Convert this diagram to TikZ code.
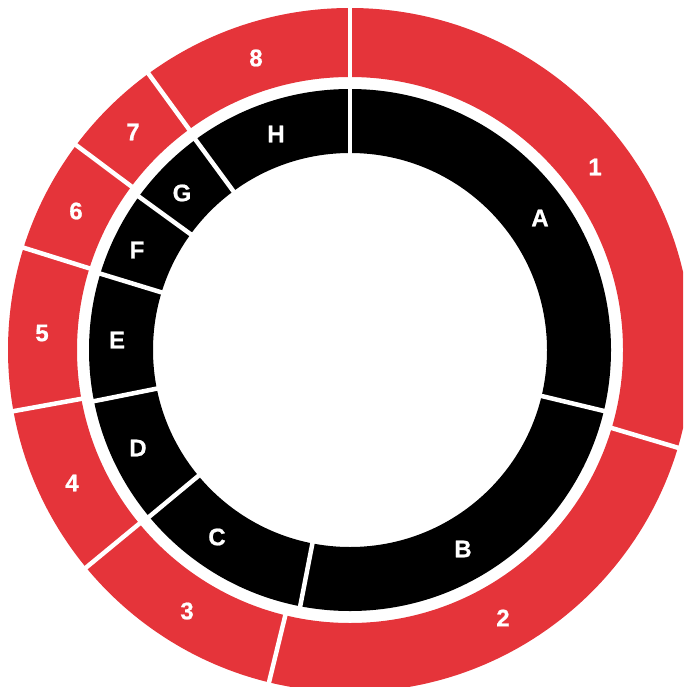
\documentclass[tikz,border=0pt]{standalone}
\usepackage{fontspec}
\setmainfont{Liberation Sans}
\newfontfamily\lblfont{Liberation Sans}[FakeBold=0.8,UprightFont=*-Bold]
\definecolor{chartred}{RGB}{229,52,58}
\begin{document}
\begin{tikzpicture}[x=1pt,y=1pt,
  lbl/.style={text=white,font=\lblfont\fontsize{24}{24}\selectfont,inner sep=0pt},
  divider/.style={white,line width=4.5pt}]
\useasboundingbox (0,0) rectangle (683,-687);
\clip (0,0) rectangle (683,-687);
\coordinate (ctr) at (350,-350);
% outer ring
\fill[chartred,even odd rule] (ctr) circle (342) (ctr) circle (273);
% inner ring
\fill[black,even odd rule] (ctr) circle (261) (ctr) circle (197);
% dividers of the outer ring
\foreach \a in {90,-16.6,-103.7,-140.5,-169.7,162.6,143.2,126.1}
  \draw[divider,shift={(ctr)}] (\a:270) -- (\a:346);
% dividers of the inner ring
\foreach \a in {90,-13.5,-101,-140.3,-168.7,163,144,126.3}
  \draw[divider,shift={(ctr)}] (\a:194) -- (\a:264);
% outer labels
\node[lbl] (o1) at (595,-167) {1};
\node[lbl] (o2) at (503,-618) {2};
\node[lbl] (o3) at (187,-611) {3};
\node[lbl] (o4) at (72,-483) {4};
\node[lbl] (o5) at (42,-333) {5};
\node[lbl] (o6) at (76,-211) {6};
\node[lbl] (o7) at (133,-132) {7};
\node[lbl] (o8) at (256,-58) {8};
% inner labels
\node[lbl] (iA) at (540,-218) {A};
\node[lbl] (iB) at (463,-549) {B};
\node[lbl] (iC) at (217,-537) {C};
\node[lbl] (iD) at (138,-448) {D};
\node[lbl] (iE) at (117,-340) {E};
\node[lbl] (iF) at (137,-250) {F};
\node[lbl] (iG) at (182,-193) {G};
\node[lbl] (iH) at (276,-134) {H};
\end{tikzpicture}
\end{document}
